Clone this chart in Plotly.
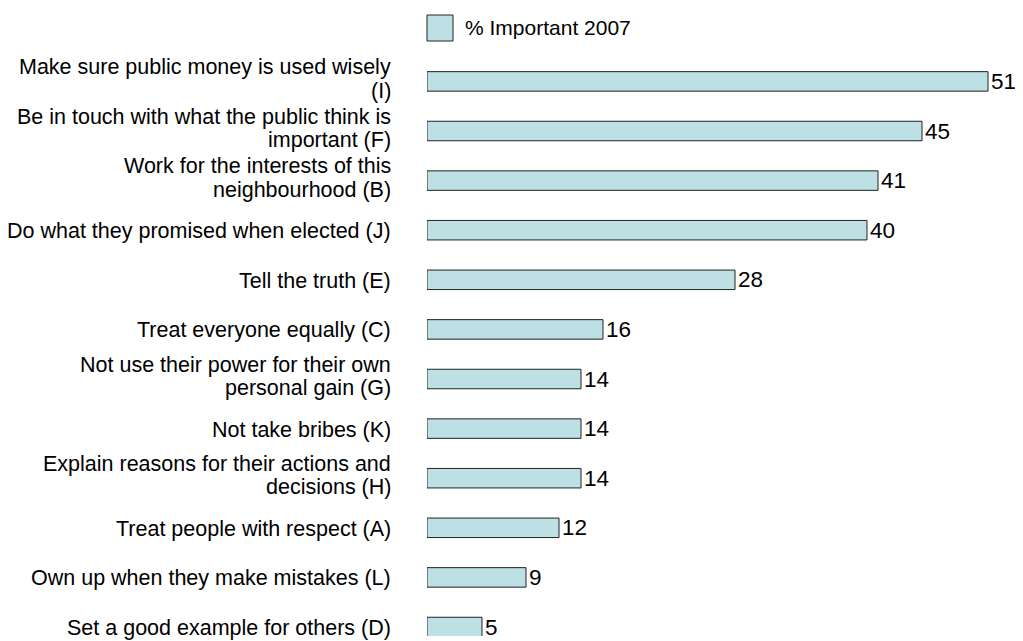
import plotly.graph_objects as go

categories = [
    "Make sure public money is used wisely<br>(I)",
    "Be in touch with what the public think is<br>important (F)",
    "Work for the interests of this<br>neighbourhood (B)",
    "Do what they promised when elected (J)",
    "Tell the truth (E)",
    "Treat everyone equally (C)",
    "Not use their power for their own<br>personal gain (G)",
    "Not take bribes (K)",
    "Explain reasons for their actions and<br>decisions (H)",
    "Treat people with respect (A)",
    "Own up when they make mistakes (L)",
    "Set a good example for others (D)",
]
values_2007 = [51, 45, 41, 40, 28, 16, 14, 14, 14, 12, 9, 5]
series_name = "% Important 2007"

FONT = "Liberation Sans, Arial, sans-serif"
BAR_COLOR = "#BCE0E3"

# page body has an 8px margin; work in screen pixels and convert
OFF = 8
W, H = 1023 - OFF, 641 - OFF
L = 427 - OFF          # screen x of bar base
T = 40 - OFF           # screen y of plot top
B = H - (636 - OFF)    # plot bottom at screen y 636
R = 10
PW, PH = W - L - R, H - T - B
px_per_unit_x = 11.0
px_per_unit_y = 49.6
top_val = -(81.4 - 40) / px_per_unit_y

fig = go.Figure()
fig.add_trace(go.Bar(
    y=categories,
    x=values_2007,
    orientation="h",
    name=series_name,
    marker=dict(color=BAR_COLOR, line=dict(color="#222222", width=1)),
    text=[str(v) for v in values_2007],
    textposition="outside",
    textfont=dict(family=FONT, size=22.5, color="black"),
    constraintext="none",
    cliponaxis=False,
    showlegend=False,
))

fig.update_layout(
    width=W, height=H,
    margin=dict(l=L, r=R, t=T, b=B, autoexpand=False),
    paper_bgcolor="white", plot_bgcolor="white",
    font=dict(family=FONT, size=21.5, color="black"),
    bargap=0.607,
    xaxis=dict(range=[0, PW / px_per_unit_x], showgrid=False, zeroline=False,
               showline=False, showticklabels=False, ticks="", automargin=False),
    yaxis=dict(range=[top_val + PH / px_per_unit_y, top_val],
               showgrid=False, zeroline=False, showline=False, ticks="",
               automargin=False, showticklabels=False),
)

# category labels: right-aligned, tighter line spacing than plotly's default
LINE_GAP = 23.5
for cat in categories:
    lines = cat.split("<br>")
    n = len(lines)
    base_shift = 2.5 if n > 1 else -1.0
    for i, line in enumerate(lines):
        shift = base_shift + ((n - 1) / 2 - i) * LINE_GAP
        fig.add_annotation(xref="paper", yref="y", x=0, y=cat,
                           xshift=-34, yshift=shift,
                           text=line, showarrow=False,
                           xanchor="right", yanchor="middle",
                           font=dict(family=FONT, size=21.5, color="black"))

def sx(px):
    return (px - OFF - L) / PW

def sy(py):
    return (H - B - (py - OFF)) / PH

# legend drawn as a swatch + label
fig.add_shape(type="rect", xref="paper", yref="paper",
              x0=sx(427), x1=sx(453), y0=sy(41), y1=sy(15),
              fillcolor=BAR_COLOR, line=dict(color="#222222", width=1))
fig.add_annotation(xref="paper", yref="paper", x=sx(463), y=sy(28),
                   text=series_name, showarrow=False, xanchor="left", yanchor="middle",
                   font=dict(family=FONT, size=21, color="black"))

fig.write_html("out.html")
